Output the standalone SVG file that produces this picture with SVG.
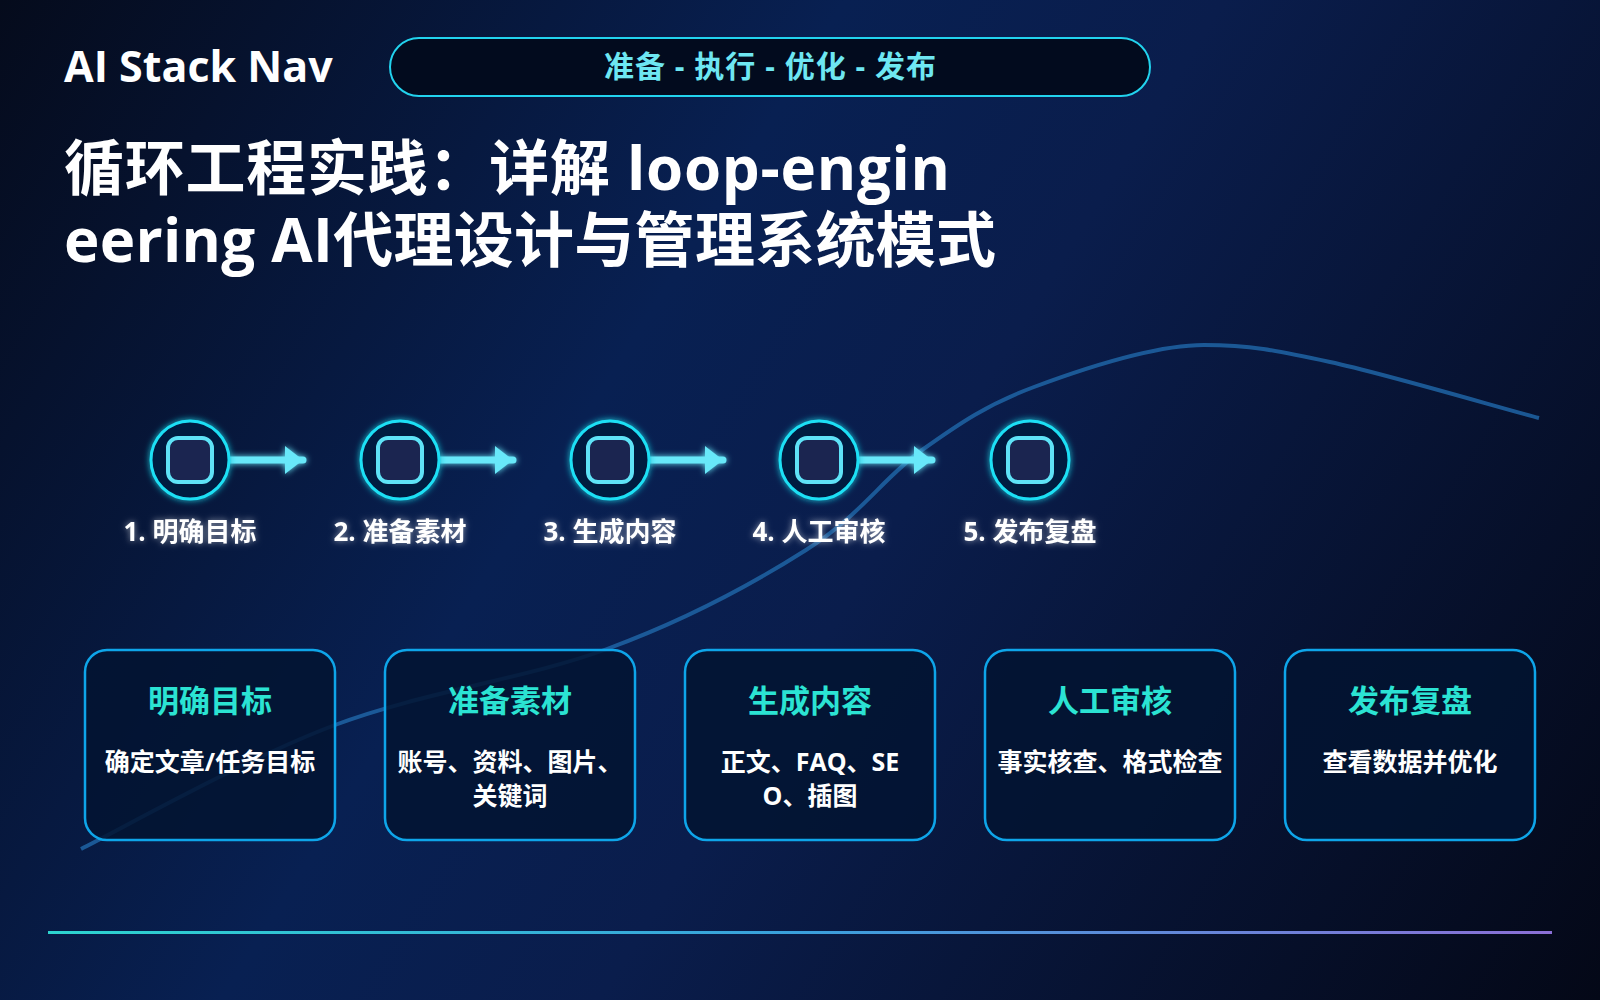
<svg xmlns="http://www.w3.org/2000/svg" width="1600" height="1000" viewBox="0 0 1600 1000">
  <defs>
    <linearGradient id="bg" gradientUnits="userSpaceOnUse" x1="0" y1="0" x2="1600" y2="1000">
      <stop offset="0" stop-color="#050b1c"/>
      <stop offset="0.38" stop-color="#082052"/>
      <stop offset="0.55" stop-color="#0a1d4c"/>
      <stop offset="1" stop-color="#040817"/>
    </linearGradient>
    <linearGradient id="footer" x1="0" y1="0" x2="1" y2="0">
      <stop offset="0" stop-color="#2dd4cf"/>
      <stop offset="0.5" stop-color="#3aa0dc"/>
      <stop offset="1" stop-color="#8b6fd6"/>
    </linearGradient>
    <filter id="glow" filterUnits="userSpaceOnUse" x="0" y="0" width="1600" height="1000">
      <feGaussianBlur in="SourceGraphic" stdDeviation="3" result="b"/>
      <feMerge><feMergeNode in="b"/><feMergeNode in="SourceGraphic"/></feMerge>
    </filter>
    <filter id="textglow" filterUnits="userSpaceOnUse" x="0" y="0" width="1600" height="1000">
      <feGaussianBlur in="SourceAlpha" stdDeviation="3" result="a"/>
      <feFlood flood-color="#ffffff" flood-opacity="0.55"/>
      <feComposite operator="in" in2="a" result="g"/>
      <feMerge><feMergeNode in="g"/><feMergeNode in="SourceGraphic"/></feMerge>
    </filter>
    <style>
      text { font-family: "Open Sans", "Noto Sans CJK SC", "Noto Sans", sans-serif; font-weight: 700; }
      .brand { font-size: 43px; fill: #ffffff; }
      .pill { fill: #020b1e; stroke: #22d3ee; stroke-width: 2; }
      .pilltext { font-size: 30px; fill: #6ee7f2; text-anchor: middle; }
      .title { font-size: 60px; fill: #ffffff; }
      .ring { fill: #031a40; stroke: #1de0f5; stroke-width: 3; }
      .core { fill: #1b2550; stroke: #5ee3f7; stroke-width: 4; }
      .steplabel { font-size: 26px; fill: #ffffff; text-anchor: middle; }
      .shaft { stroke: #67e8f9; stroke-width: 7; stroke-linecap: round; fill: none; }
      .head { fill: #67e8f9; }
      .card { fill: #021431; fill-opacity: 0.85; stroke: #0ea5e9; stroke-width: 2.5; }
      .cardtitle { font-size: 31px; fill: #2be3d3; text-anchor: middle; }
      .carddesc { font-size: 25px; fill: #ffffff; text-anchor: middle; }
      .wave { fill: none; stroke: #1f64a4; stroke-width: 4; stroke-opacity: 0.85; }
    </style>
  </defs>

  <rect id="background" x="0" y="0" width="1600" height="1000" fill="url(#bg)"/>

  <g id="decor-curve">
    <path class="wave" d="M81,849 C123,828 247,758 335,725 C423,692 529,678 607,649 C686,620 754,583 806,550 C859,517 884,477 922,450 C960,423 987,404.5 1034,387 C1081,369.5 1155,345 1204,345 C1250,345 1274,350 1330,362 C1386,374 1504,409 1539,418"/>
  </g>

  <g id="header">
    <text class="brand" x="64" y="82">AI Stack Nav</text>
    <rect class="pill" x="390" y="38" width="760" height="58" rx="29"/>
    <text class="pilltext" x="770" y="77" textLength="332" lengthAdjust="spacing">准备 - 执行 - 优化 - 发布</text>
  </g>

  <g id="title">
    <text class="title" x="64" y="190" textLength="886" lengthAdjust="spacing">循环工程实践：详解 loop-engin</text>
    <text class="title" x="64" y="262" textLength="932" lengthAdjust="spacing">eering AI代理设计与管理系统模式</text>
  </g>

  <g id="connectors" filter="url(#glow)">
    <g id="arrow-1-2">
      <line class="shaft" x1="228" y1="460" x2="303" y2="460"/>
      <polygon class="head" points="285,446 303,460 285,474"/>
    </g>
    <g id="arrow-2-3">
      <line class="shaft" x1="438" y1="460" x2="513" y2="460"/>
      <polygon class="head" points="495,446 513,460 495,474"/>
    </g>
    <g id="arrow-3-4">
      <line class="shaft" x1="648" y1="460" x2="723" y2="460"/>
      <polygon class="head" points="705,446 723,460 705,474"/>
    </g>
    <g id="arrow-4-5">
      <line class="shaft" x1="857" y1="460" x2="932" y2="460"/>
      <polygon class="head" points="914,446 932,460 914,474"/>
    </g>
  </g>

  <g id="step-1">
    <circle class="ring" cx="190" cy="460" r="39" filter="url(#glow)"/>
    <rect class="core" x="168" y="438" width="44" height="44" rx="10"/>
    <text class="steplabel" x="190" y="541" filter="url(#textglow)">1. 明确目标</text>
  </g>
  <g id="step-2">
    <circle class="ring" cx="400" cy="460" r="39" filter="url(#glow)"/>
    <rect class="core" x="378" y="438" width="44" height="44" rx="10"/>
    <text class="steplabel" x="400" y="541" filter="url(#textglow)">2. 准备素材</text>
  </g>
  <g id="step-3">
    <circle class="ring" cx="610" cy="460" r="39" filter="url(#glow)"/>
    <rect class="core" x="588" y="438" width="44" height="44" rx="10"/>
    <text class="steplabel" x="610" y="541" filter="url(#textglow)">3. 生成内容</text>
  </g>
  <g id="step-4">
    <circle class="ring" cx="819" cy="460" r="39" filter="url(#glow)"/>
    <rect class="core" x="797" y="438" width="44" height="44" rx="10"/>
    <text class="steplabel" x="819" y="541" filter="url(#textglow)">4. 人工审核</text>
  </g>
  <g id="step-5">
    <circle class="ring" cx="1030" cy="460" r="39" filter="url(#glow)"/>
    <rect class="core" x="1008" y="438" width="44" height="44" rx="10"/>
    <text class="steplabel" x="1030" y="541" filter="url(#textglow)">5. 发布复盘</text>
  </g>

  <g id="card-1">
    <rect class="card" x="85" y="650" width="250" height="190" rx="22"/>
    <text class="cardtitle" x="210" y="712">明确目标</text>
    <text class="carddesc" x="210" y="771">确定文章/任务目标</text>
  </g>
  <g id="card-2">
    <rect class="card" x="385" y="650" width="250" height="190" rx="22"/>
    <text class="cardtitle" x="510" y="712">准备素材</text>
    <text class="carddesc" x="510" y="771">账号、资料、图片、</text>
    <text class="carddesc" x="510" y="805">关键词</text>
  </g>
  <g id="card-3">
    <rect class="card" x="685" y="650" width="250" height="190" rx="22"/>
    <text class="cardtitle" x="810" y="712">生成内容</text>
    <text class="carddesc" x="810" y="771">正文、FAQ、SE</text>
    <text class="carddesc" x="810" y="805">O、插图</text>
  </g>
  <g id="card-4">
    <rect class="card" x="985" y="650" width="250" height="190" rx="22"/>
    <text class="cardtitle" x="1110" y="712">人工审核</text>
    <text class="carddesc" x="1110" y="771">事实核查、格式检查</text>
  </g>
  <g id="card-5">
    <rect class="card" x="1285" y="650" width="250" height="190" rx="22"/>
    <text class="cardtitle" x="1410" y="712">发布复盘</text>
    <text class="carddesc" x="1410" y="771">查看数据并优化</text>
  </g>

  <g id="footer-line">
    <rect x="48" y="931" width="1504" height="3" fill="url(#footer)"/>
  </g>
</svg>
